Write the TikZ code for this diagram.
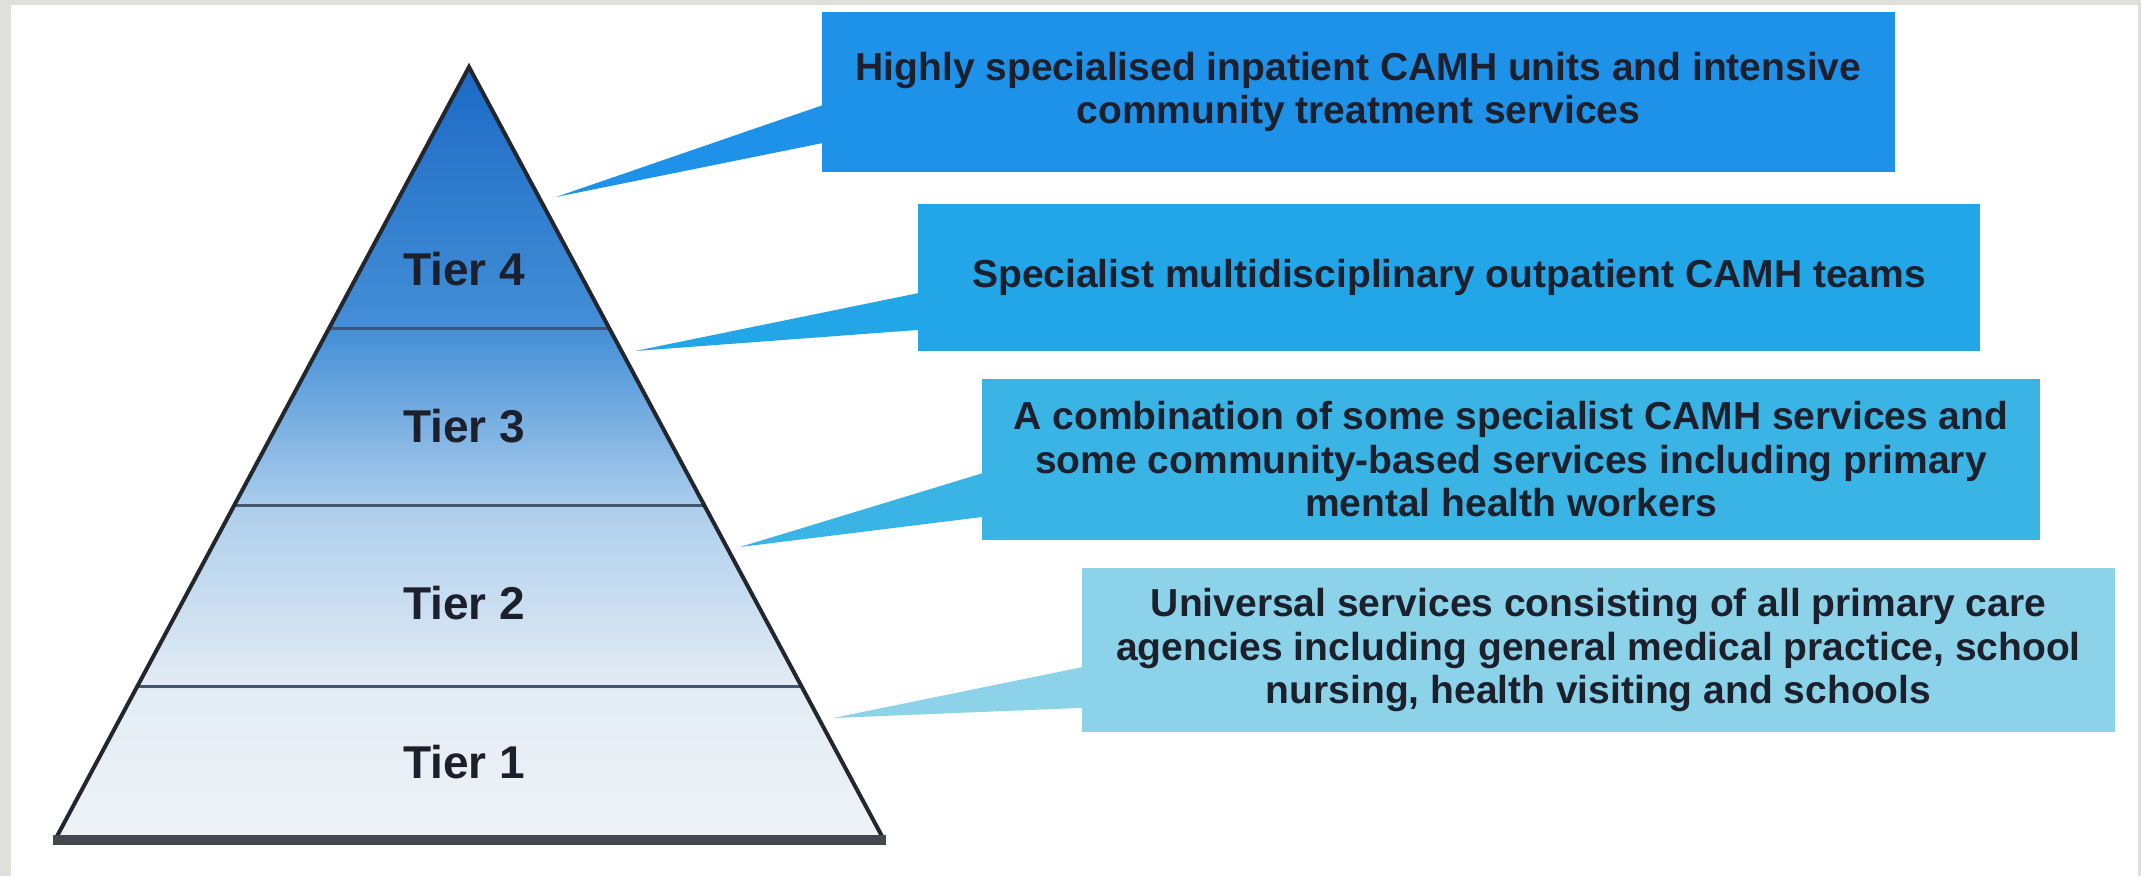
\documentclass[tikz,border=0pt]{standalone}
\usepackage{fontspec}
\setmainfont{Liberation Sans}
\usetikzlibrary{calc}
\definecolor{bgray}{RGB}{224,224,219}
\definecolor{cA}{RGB}{30,146,232}
\definecolor{cB}{RGB}{34,166,232}
\definecolor{cC}{RGB}{58,180,228}
\definecolor{cD}{RGB}{140,211,233}
\definecolor{ink}{RGB}{28,32,45}
\definecolor{pA}{RGB}{239,243,247}
\definecolor{pB}{RGB}{226,235,244}
\definecolor{pC}{RGB}{176,208,237}
\definecolor{pD}{RGB}{68,143,214}
\definecolor{pE}{RGB}{28,106,198}
\definecolor{edgec}{RGB}{35,38,45}
\definecolor{divc}{RGB}{70,85,110}
\pgfdeclareverticalshading{pyrshade}{100bp}{color(0bp)=(pA); color(25bp)=(pA); color(35bp)=(pB); color(46bp)=(pC); color(58bp)=(pD); color(75bp)=(pE); color(100bp)=(pE)}
\tikzset{
  box/.style={rectangle, inner sep=0pt, align=center, text=ink,
    font=\fontsize{39}{43.5}\selectfont\bfseries},
  tierlabel/.style={inner sep=0pt, text=ink, font=\fontsize{46}{50}\selectfont\bfseries},
  divider/.style={draw=divc, line width=3pt},
  pyredge/.style={draw=edgec, line width=4pt, line join=miter}
}
\begin{document}
\begin{tikzpicture}[x=1pt,y=-1pt]
\useasboundingbox (0,0) rectangle (2141,876);
\fill[bgray] (0,0) rectangle (2141,876);
\fill[white] (11,5) rectangle (2138,876);

% callout boxes
\node[box, fill=cA, minimum width=1073pt, minimum height=160pt] (b1) at (1358.5,92)
  {Highly specialised inpatient CAMH units and intensive\\community treatment services};
\node[box, fill=cB, minimum width=1062pt, minimum height=147pt] (b2) at (1449,277.5)
  {Specialist multidisciplinary outpatient CAMH teams};
\node[box, fill=cC, minimum width=1058pt, minimum height=161pt] (b3) at (1511,459.5)
  {A combination of some specialist CAMH services and\\some community-based services including primary\\mental health workers};
\node[box, fill=cD, minimum width=1033pt, minimum height=164pt] (b4) at (1598.5,650)
  {Universal services consisting of all primary care\\agencies including general medical practice, school\\nursing, health visiting and schools};

% pyramid corners
\coordinate (apex) at (469,67);
\coordinate (bl) at (55,840);
\coordinate (br) at (884,840);

% callout wedges
\coordinate (t1) at (556,197);
\coordinate (t2) at (635,351);
\coordinate (t3) at (740,547);
\coordinate (t4) at (833,718);
\fill[cA] (t1) -- ($(b1.north west)+(2,93)$) -- ($(b1.north west)+(2,131)$) -- cycle;
\fill[cB] (t2) -- ($(b2.north west)+(2,89)$) -- ($(b2.north west)+(2,126)$) -- cycle;
\fill[cC] (t3) -- ($(b3.north west)+(2,94)$) -- ($(b3.north west)+(2,138)$) -- cycle;
\fill[cD] (t4) -- ($(b4.north west)+(2,99)$) -- ($(b4.north west)+(2,140)$) -- cycle;

\shade[shading=pyrshade] (apex) -- (br) -- (bl) -- cycle;

\draw[divider] ($(apex)!0.338!(bl)$) -- ($(apex)!0.338!(br)$);
\draw[divider] ($(apex)!0.567!(bl)$) -- ($(apex)!0.567!(br)$);
\draw[divider] ($(apex)!0.802!(bl)$) -- ($(apex)!0.802!(br)$);

\draw[pyredge] (bl) -- (apex) -- (br);
\draw[draw=edgec!85, line width=10pt] ($(bl)+(-2,0)$) -- ($(br)+(2,0)$);

\node[tierlabel] (tier4) at (464,269) {Tier 4};
\node[tierlabel] (tier3) at (464,426) {Tier 3};
\node[tierlabel] (tier2) at (464,603) {Tier 2};
\node[tierlabel] (tier1) at (464,762) {Tier 1};
\end{tikzpicture}
\end{document}
